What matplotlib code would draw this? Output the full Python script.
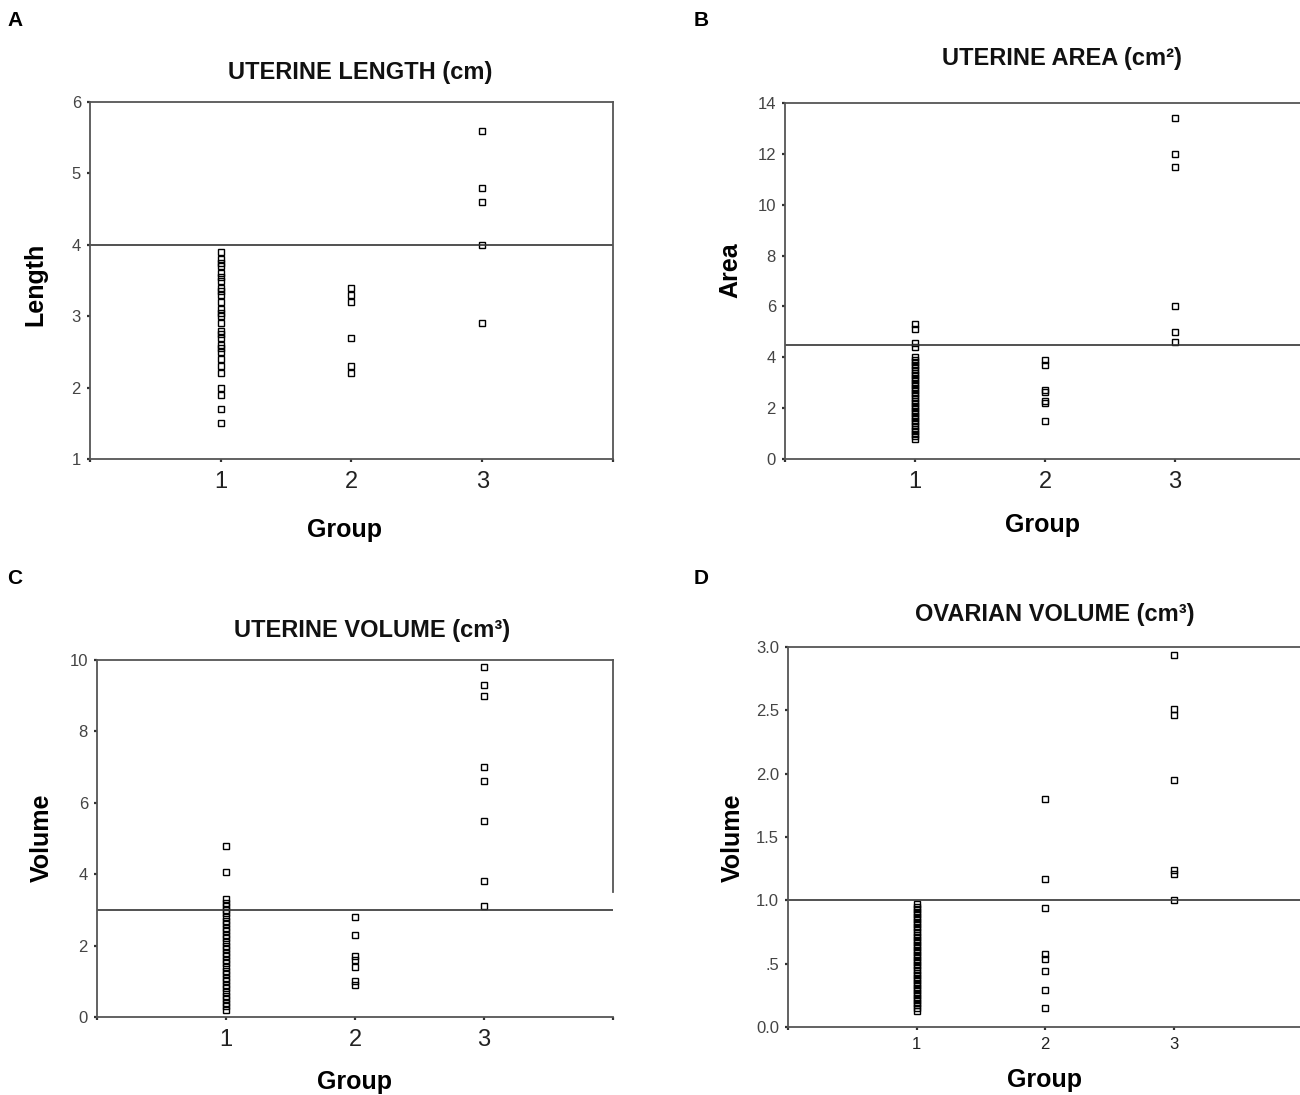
import matplotlib
matplotlib.use("Agg")
from matplotlib import pyplot as plt

plt.rcParams['font.family'] = ['Liberation Sans', 'DejaVu Sans']

# ---- data ----
length_g1 = [3.9, 3.8, 3.75, 3.7, 3.6, 3.55, 3.5, 3.4, 3.35, 3.3, 3.2, 3.1, 3.05, 3.0,
             2.9, 2.8, 2.75, 2.7, 2.6, 2.55, 2.5, 2.4, 2.3, 2.2, 2.0, 1.9, 1.7, 1.5]
length_g2 = [3.4, 3.3, 3.2, 2.7, 2.3, 2.2]
length_g3 = [5.6, 4.8, 4.6, 4.0, 2.9]
length_cut = 4.0

area_g1 = [5.3, 5.1, 4.55, 4.4, 4.0, 3.9, 3.8, 3.7, 3.6, 3.5, 3.4, 3.3, 3.2, 3.1, 3.0,
           2.9, 2.8, 2.7, 2.6, 2.5, 2.4, 2.3, 2.2, 2.1, 2.0, 1.9, 1.8, 1.7, 1.6, 1.5,
           1.4, 1.3, 1.2, 1.1, 1.0, 0.9, 0.8]
area_g2 = [3.9, 3.7, 2.7, 2.65, 2.3, 2.2, 1.5]
area_g3 = [13.4, 12.0, 11.5, 6.0, 5.0, 4.6]
area_cut = 4.5

uvol_g1 = [4.8, 4.05, 3.3, 3.2, 3.1, 3.0, 2.9, 2.8, 2.7, 2.6, 2.5, 2.4, 2.3, 2.2, 2.1,
           2.0, 1.9, 1.8, 1.7, 1.6, 1.5, 1.4, 1.3, 1.2, 1.1, 1.0, 0.9, 0.8, 0.7, 0.6,
           0.5, 0.4, 0.3, 0.2]
uvol_g2 = [2.8, 2.3, 1.7, 1.6, 1.4, 1.0, 0.9]
uvol_g3 = [9.8, 9.3, 9.0, 7.0, 6.6, 5.5, 3.8, 3.1]
uvol_cut = 3.0

ovol_g1 = [0.97, 0.95, 0.93, 0.91, 0.89, 0.87, 0.85, 0.83, 0.81, 0.79, 0.77, 0.75, 0.73,
           0.71, 0.69, 0.67, 0.65, 0.63, 0.61, 0.59, 0.57, 0.55, 0.53, 0.51, 0.49, 0.47,
           0.45, 0.43, 0.41, 0.39, 0.37, 0.35, 0.33, 0.31, 0.29, 0.27, 0.25, 0.23, 0.21,
           0.19, 0.17, 0.15, 0.13]
ovol_g2 = [1.8, 1.17, 0.94, 0.58, 0.54, 0.44, 0.29, 0.15]
ovol_g3 = [2.94, 2.51, 2.46, 1.95, 1.24, 1.21, 1.0]
ovol_cut = 1.0

groups = [1, 2, 3]
dark = '#333333'

fig = plt.figure(figsize=(13, 10.95), dpi=100)


def panel(rect, series, cut, ylim, yticks, yticklabels, xtick_size=17, xpad=6):
    ax = fig.add_axes(rect)
    for g, vals in zip(groups, series):
        ax.plot([g] * len(vals), vals, ls='none', marker='s', ms=4.4,
                mfc='none', mec='black', mew=1.0)
    ax.axhline(cut, color=dark, lw=1.2)
    ax.set_xlim(0, 4)
    ax.set_ylim(*ylim)
    ax.set_xticks([0, 1, 2, 3, 4])
    ax.set_xticklabels(['', '1', '2', '3', ''], fontsize=xtick_size, color='#222222')
    ax.set_yticks(yticks)
    ax.set_yticklabels(yticklabels, fontsize=12, color='#444444')
    ax.tick_params(length=2.5, width=1.6, color=dark, pad=4)
    ax.tick_params(axis='x', pad=xpad)
    for s in ax.spines.values():
        s.set_color('#555555')
        s.set_linewidth(1.3)
    return ax


# A
panel([0.0692, 0.5808, 0.4023, 0.326], [length_g1, length_g2, length_g3], length_cut,
      (1, 6), [1, 2, 3, 4, 5, 6], ['1', '2', '3', '4', '5', '6'])
# B
panel([0.6038, 0.5808, 0.4, 0.3251], [area_g1, area_g2, area_g3], area_cut,
      (0, 14), [0, 2, 4, 6, 8, 10, 12, 14], ['0', '2', '4', '6', '8', '10', '12', '14'])
# C
axc = panel([0.0746, 0.0712, 0.397, 0.3261], [uvol_g1, uvol_g2, uvol_g3], uvol_cut,
            (0, 10), [0, 2, 4, 6, 8, 10], ['0', '2', '4', '6', '8', '10'])
axc.spines['right'].set_bounds(3.5, 10)
# D
panel([0.6062, 0.0621, 0.3954, 0.347], [ovol_g1, ovol_g2, ovol_g3], ovol_cut,
      (0, 3), [0, 0.5, 1.0, 1.5, 2.0, 2.5, 3.0],
      ['0.0', '.5', '1.0', '1.5', '2.0', '2.5', '3.0'], xtick_size=12, xpad=5)


def px(x, y):
    return x / 1300, 1 - y / 1095


letter_kw = dict(fontsize=15, fontweight='bold', ha='left', va='center')
for lab, (x, y) in zip('ABCD', [(7, 20), (694, 20), (7, 578), (694, 578)]):
    fig.text(*px(x, y), lab, **letter_kw)

title_kw = dict(fontsize=17, fontweight='bold', ha='center', va='center', color='#111111')
fig.text(*px(360, 72), 'UTERINE LENGTH (cm)', **title_kw)
fig.text(*px(1062, 58), 'UTERINE AREA (cm²)', **title_kw)
fig.text(*px(372, 630), 'UTERINE VOLUME (cm³)', **title_kw)
fig.text(*px(1055, 615), 'OVARIAN VOLUME (cm³)', **title_kw)

ylab_kw = dict(fontsize=18, fontweight='bold', ha='center', va='center', rotation=90)
fig.text(*px(35, 284), 'Length', **ylab_kw)
fig.text(*px(730, 270), 'Area', **ylab_kw)
fig.text(*px(42, 838), 'Volume', **ylab_kw)
fig.text(*px(733, 838), 'Volume', **ylab_kw)

xlab_kw = dict(fontsize=18, fontweight='bold', ha='center', va='center')
fig.text(*px(345, 530), 'Group', **xlab_kw)
fig.text(*px(1042, 525), 'Group', **xlab_kw)
fig.text(*px(355, 1082), 'Group', **xlab_kw)
fig.text(*px(1045, 1080), 'Group', **xlab_kw)

plt.savefig('out.png', dpi=100)
